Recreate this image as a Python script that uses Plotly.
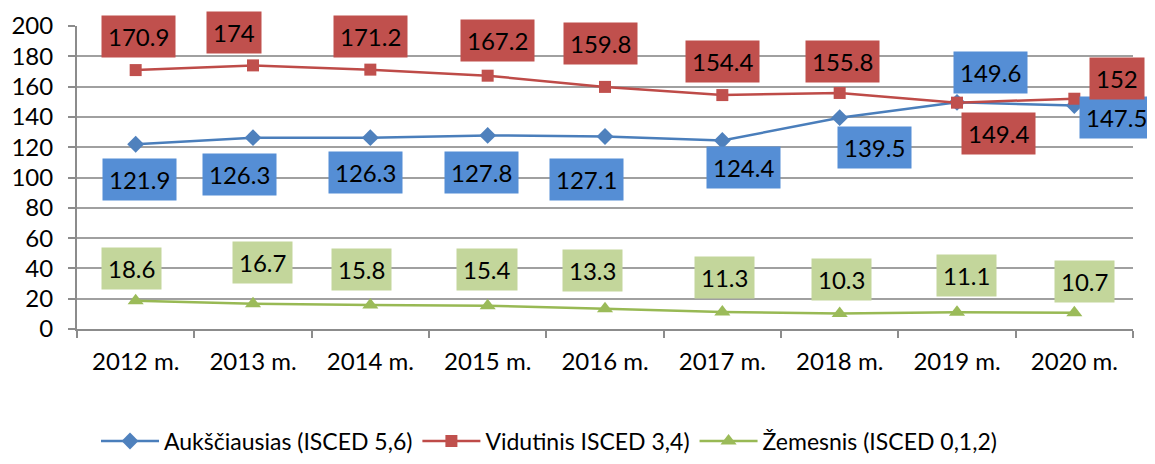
import plotly.graph_objects as go

years = ["2012 m.", "2013 m.", "2014 m.", "2015 m.", "2016 m.", "2017 m.", "2018 m.", "2019 m.", "2020 m."]
aukst = [121.9, 126.3, 126.3, 127.8, 127.1, 124.4, 139.5, 149.6, 147.5]
vidut = [170.9, 174, 171.2, 167.2, 159.8, 154.4, 155.8, 149.4, 152]
zemes = [18.6, 16.7, 15.8, 15.4, 13.3, 11.3, 10.3, 11.1, 10.7]
names = ["Aukščiausias (ISCED 5,6)", "Vidutinis ISCED 3,4)", "Žemesnis (ISCED 0,1,2)"]

# label offsets in pixels (dx right, dy down) relative to point
off_a = [(4, 35), (-14, 37), (-5, 35), (-6, 37), (-19, 43), (21, 27), (35, 30), (33, -30), (42, 12)]
off_v = [(3, -34), (-19, -33), (0, -33), (10, -35), (-5, -43), (0, -34), (3, -31), (41, 31), (43, -20)]
off_z = [(-4, -32), (9, -41), (-9, -36), (-1, -36), (-13, -38), (2, -34), (2, -34), (9, -37), (10, -31)]

FONT = "Lato"
fig = go.Figure()
series = [
    (aukst, names[0], "#4A7EBB", "#4F81BD", "diamond", 13, "#558ED5", off_a),
    (vidut, names[1], "#BE4B48", "#C0504D", "square", 12, "#C0504D", off_v),
    (zemes, names[2], "#98B954", "#9BBB59", "triangle-up", 14, "#C3D69B", off_z),
]
for vals, nm, lc, mc, sym, ms, bc, offs in series:
    fig.add_trace(go.Scatter(x=years, y=vals, name=nm, mode="lines+markers",
                             line=dict(color=lc, width=2.5),
                             marker=dict(symbol=sym, size=ms, color=mc)))
for vals, nm, lc, mc, sym, ms, bc, offs in series:
    for yr, v, (dx, dy) in zip(years, vals, offs):
        fig.add_annotation(x=yr, y=v, text=f"{v:g}", showarrow=False,
                           xshift=dx, yshift=-dy, bgcolor=bc, borderpad=6,
                           font=dict(family=FONT, size=24, color="black"))

fig.update_layout(
    width=1147, height=456,
    margin=dict(l=69, r=22, t=18, b=135, autoexpand=False),
    paper_bgcolor="white", plot_bgcolor="white",
    font=dict(family=FONT, size=24, color="black"),
    showlegend=True,
    legend=dict(orientation="h", x=0.018, xanchor="left", y=-0.37, yanchor="middle",
                font=dict(family=FONT, size=23), itemwidth=58),
)
fig.update_xaxes(showgrid=False, showline=True, linecolor="#8c8c8c", linewidth=2,
                 ticks="outside", ticklen=7, tickcolor="#8c8c8c", tickwidth=2,
                 tickson="boundaries", ticklabelstandoff=10, range=[-0.5, 8.5],
                 automargin=False)
fig.update_yaxes(range=[0, 200], dtick=20, showgrid=True, gridcolor="#a0a0a0", gridwidth=2,
                 showline=True, linecolor="#8c8c8c", linewidth=2,
                 ticks="outside", ticklen=7, tickcolor="#8c8c8c", tickwidth=2,
                 ticklabelstandoff=10, zeroline=False, automargin=False)

fig.write_html("out.html")
